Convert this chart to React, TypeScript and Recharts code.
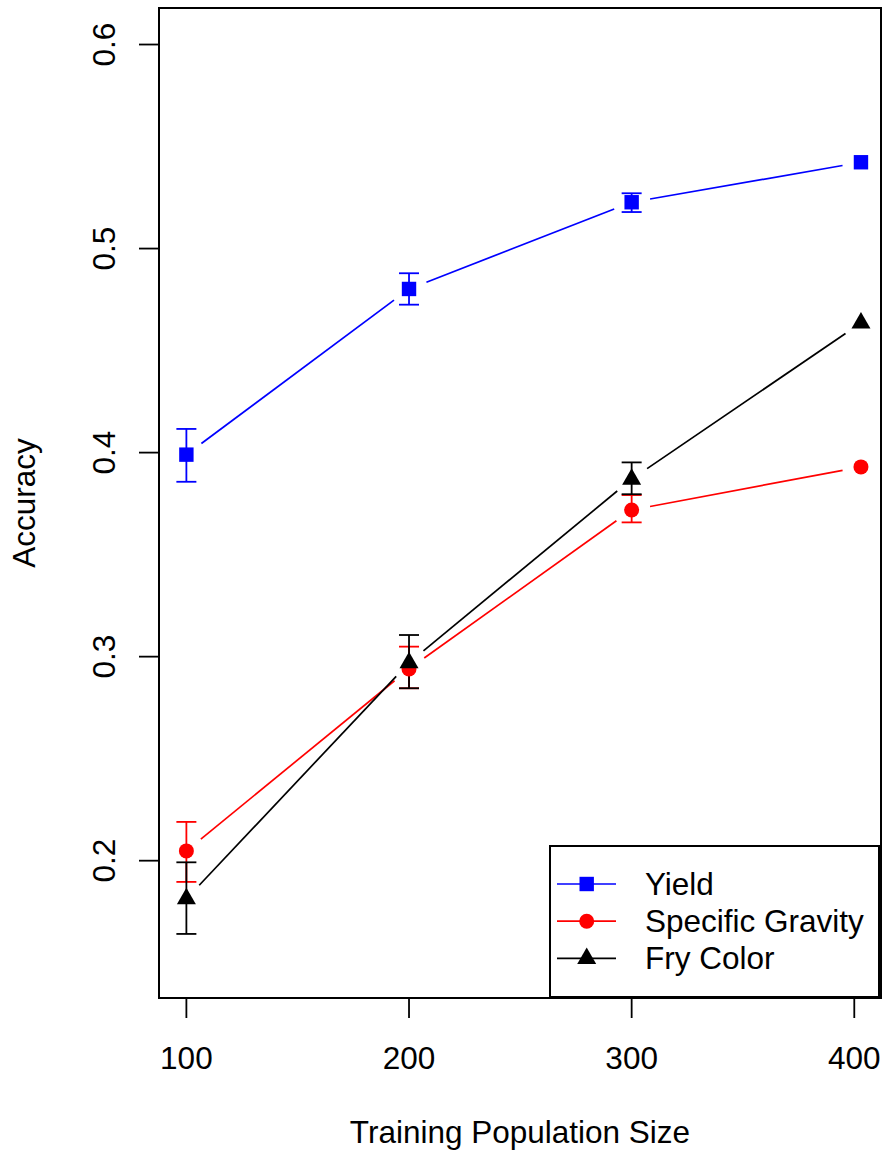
import React from 'react';
import { ScatterChart, Scatter, XAxis, YAxis, ErrorBar, ReferenceArea, Legend, Label } from 'recharts';

// training population sizes (last run used the full set, slightly over 400)
const sizes = [100, 200, 300, 403];

const yieldAcc = [0.399, 0.4802, 0.5227, 0.5423];
const yieldLo = [0.3857, 0.4725, 0.5179, null];
const yieldHi = [0.4116, 0.4879, 0.5271, null];

const gravityAcc = [0.2048, 0.294, 0.3719, 0.393];
const gravityLo = [0.1896, 0.2845, 0.3658, null];
const gravityHi = [0.219, 0.3049, 0.3792, null];

const fryAcc = [0.1813, 0.297, 0.387, 0.4635];
const fryLo = [0.1641, 0.2845, 0.3796, null];
const fryHi = [0.1992, 0.3106, 0.3952, null];

const xTicks = [100, 200, 300, 400];
const yTicks = [0.2, 0.3, 0.4, 0.5, 0.6];

const X_DOMAIN = [87.7, 412];
const Y_DOMAIN = [0.1327, 0.6179];
const FONT = '"Liberation Sans", Arial, Helvetica, sans-serif';
const FS = 31.5;
const GAP = 18.7;

const buildRows = (acc, lo, hi) =>
    sizes.map((x, i) => ({
        x,
        y: acc[i],
        err: lo[i] == null ? null : [acc[i] - lo[i], hi[i] - acc[i]],
    }));

const yieldRows = buildRows(yieldAcc, yieldLo, yieldHi);
const gravityRows = buildRows(gravityAcc, gravityLo, gravityHi);
const fryRows = buildRows(fryAcc, fryLo, fryHi);

const Square = ({ cx, cy, color }) => <rect x={cx - 7.2} y={cy - 7.2} width={14.4} height={14.4} fill={color} />;
const Dot = ({ cx, cy, color }) => <circle cx={cx} cy={cy} r={7.5} fill={color} />;
const Tri = ({ cx, cy, color }) => (
    <polygon points={`${cx},${cy - 11} ${cx + 9.5},${cy + 5.5} ${cx - 9.5},${cy + 5.5}`} fill={color} />
);

const series = [
    { name: 'Yield', color: '#0000ff', rows: yieldRows, Marker: Square },
    { name: 'Specific Gravity', color: '#ff0000', rows: gravityRows, Marker: Dot },
    { name: 'Fry Color', color: '#000000', rows: fryRows, Marker: Tri },
];

// R type="b": segments stop short of the points
const gappedLine = (color) => (props) => {
    const pts = props.points || [];
    const segs = [];
    for (let i = 0; i < pts.length - 1; i++) {
        const a = pts[i];
        const b = pts[i + 1];
        const dx = b.x - a.x;
        const dy = b.y - a.y;
        const len = Math.hypot(dx, dy);
        if (len < 2 * GAP) continue;
        const ux = dx / len;
        const uy = dy / len;
        segs.push(
            <line key={i} x1={a.x + ux * GAP} y1={a.y + uy * GAP} x2={b.x - ux * GAP} y2={b.y - uy * GAP}
                stroke={color} strokeWidth={1.7} />
        );
    }
    return <g>{segs}</g>;
};

const YTick = ({ x, y, payload }) => (
    <text x={x} y={y} transform={`rotate(-90, ${x}, ${y})`} textAnchor="middle" fontSize={FS} fill="#000" fontFamily={FONT}>
        {payload.value}
    </text>
);

const renderLegend = () => (
    <svg width={332} height={154} style={{ display: 'block' }}>
        <rect x={1} y={1} width={329} height={151} fill="#fff" stroke="#000" strokeWidth={2} />
        {series.map((s, i) => {
            const cy = 39 + i * 37.2;
            return (
                <g key={s.name}>
                    <line x1={8} x2={67} y1={cy} y2={cy} stroke={s.color} strokeWidth={1.7} />
                    <s.Marker cx={37.7} cy={cy} color={s.color} />
                    <text x={96} y={cy} dy={11} fontSize={FS} fontFamily={FONT} fill="#000">{s.name}</text>
                </g>
            );
        })}
    </svg>
);

export default function App() {
    return (
        <div style={{ position: 'absolute', left: 0, top: 0, background: '#fff' }}>
            <ScatterChart width={884} height={1155} margin={{ top: 8, right: 3, bottom: 0, left: 0 }} style={{ fontFamily: FONT }}>
                <XAxis type="number" dataKey="x" domain={X_DOMAIN} ticks={xTicks} allowDataOverflow
                    height={157} axisLine={false} tickSize={20} tickMargin={29}
                    tickLine={{ stroke: '#000', strokeWidth: 1.8 }}
                    tick={{ fill: '#000', fontSize: FS, fontFamily: FONT }}>
                    <Label content={({ viewBox }) => (
                        <text x={viewBox.x + viewBox.width / 2} y={viewBox.y + 145} textAnchor="middle"
                            fontSize={FS} fontFamily={FONT} fill="#000">Training Population Size</text>
                    )} />
                </XAxis>
                <YAxis type="number" dataKey="y" domain={Y_DOMAIN} ticks={yTicks} allowDataOverflow
                    width={159} axisLine={false} tickSize={20} tickMargin={24}
                    tickLine={{ stroke: '#000', strokeWidth: 1.8 }}
                    tick={<YTick />}>
                    <Label content={({ viewBox }) => {
                        const cx = viewBox.x + 35;
                        const cy = viewBox.y + viewBox.height / 2;
                        return (
                            <text x={cx} y={cy} transform={`rotate(-90, ${cx}, ${cy})`} textAnchor="middle"
                                fontSize={FS} fontFamily={FONT} fill="#000">Accuracy</text>
                        );
                    }} />
                </YAxis>
                <ReferenceArea x1={X_DOMAIN[0]} x2={X_DOMAIN[1]} y1={Y_DOMAIN[0]} y2={Y_DOMAIN[1]}
                    fill="none" fillOpacity={0} stroke="#000" strokeWidth={2} />
                {series.map((s) => (
                    <Scatter key={s.name} name={s.name} data={s.rows} fill={s.color}
                        isAnimationActive={false} line={gappedLine(s.color)}
                        shape={(p) => <s.Marker cx={p.cx} cy={p.cy} color={s.color} />}>
                        <ErrorBar dataKey="err" direction="y" width={10} stroke={s.color} strokeWidth={1.8} />
                    </Scatter>
                ))}
                <Legend layout="vertical" align="center" verticalAlign="middle" content={renderLegend}
                    wrapperStyle={{ left: 549, top: 845, width: 332, height: 154 }} />
            </ScatterChart>
        </div>
    );
}
